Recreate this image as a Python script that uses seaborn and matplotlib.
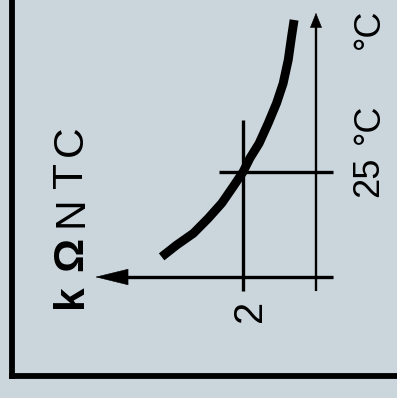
#!/usr/bin/env python3
"""NTC thermistor sketch: resistance vs temperature, drawn rotated."""
import matplotlib
matplotlib.use("Agg")
import matplotlib.pyplot as plt
import pandas as pd
import seaborn as sns

# curve: resistance (kOhm) against temperature (degC)
R_KOHM = [4.23, 3.82, 3.36, 2.95, 2.58, 2.27, 2.0, 1.81, 1.56, 1.31, 1.08,
          0.90, 0.76, 0.67, 0.60]
T_DEGC = [4.8, 7.6, 10.4, 14.0, 17.6, 21.5, 25.0, 28.3, 31.8, 36.6, 41.4,
          46.1, 51.7, 57.2, 61.2]

R_MARK = 2.0      # kOhm reference point
T_MARK = 25.0     # degC reference point
R_AXIS = (-0.47, 6.05)    # resistance axis, arrow at the far end
T_AXIS = (-3.33, 62.9)    # temperature axis, arrow at the far end
R_LABEL = "2"
T_LABEL = "25"
UNIT_T = "°C"
AXIS_TEXT = ["k", "Ω", "N", "T", "C"]

BG = "#cbd6dc"
W, H = 397, 398


def arrow_head(ax, start, tip, length, width):
    ax.annotate("", xy=tip, xytext=start,
                arrowprops=dict(arrowstyle=f"-|>,head_length={length},head_width={width}",
                                mutation_scale=1, lw=0.4, color="black",
                                shrinkA=0, shrinkB=0))


def main() -> None:
    sns.set_style("ticks", {"axes.facecolor": BG, "figure.facecolor": BG})
    plt.rcParams["font.family"] = ["Liberation Sans", "DejaVu Sans"]

    fig = plt.figure(figsize=(W / 100, H / 100), dpi=100)
    # frame: left and bottom spines are the black border
    ax = fig.add_axes([12 / W, 22 / H, 1 - 12 / W, 1 - 22 / H])
    ax.set_xlim(8.33, -2.22)     # resistance grows to the left
    ax.set_ylim(-23.57, 65.95)   # temperature grows upwards
    sns.despine(ax=ax, top=True, right=True)
    for side in ("left", "bottom"):
        ax.spines[side].set_linewidth(4.2)
        ax.spines[side].set_color("black")
        ax.spines[side].set_capstyle("projecting")
    ax.set_xticks([])
    ax.set_yticks([])

    df = pd.DataFrame({"R": R_KOHM, "T": T_DEGC})
    sns.lineplot(data=df, x="R", y="T", sort=False, color="black", lw=6.4,
                 solid_capstyle="butt", ax=ax)

    # axis lines with arrow heads
    ax.plot([R_AXIS[0], R_AXIS[1] - 0.3], [0, 0], color="black", lw=2.4,
            solid_capstyle="butt")
    arrow_head(ax, (R_AXIS[0], 0), (R_AXIS[1], 0), 22.8, 5.6)
    ax.plot([0, 0], [T_AXIS[0], T_AXIS[1] - 2], color="black", lw=1.7,
            solid_capstyle="butt")
    arrow_head(ax, (0, T_AXIS[0]), (0, T_AXIS[1]), 10, 4.0)

    # reference cross at 2 kOhm / 25 degC
    ax.plot([R_MARK, R_MARK], [T_AXIS[0], 37.4], color="black", lw=2.4,
            solid_capstyle="butt")
    ax.plot([2.66, R_AXIS[0]], [T_MARK, T_MARK], color="black", lw=2.4,
            solid_capstyle="butt")

    def label(txt, x, y, size, weight="normal"):
        fig.text(x / W, 1 - y / H, txt, rotation=90, ha="left", va="center",
                 fontsize=size, fontweight=weight, color="black")

    # "kΩ NTC" axis name
    label(AXIS_TEXT[0], 51, 296, 30.6, "bold")
    label(AXIS_TEXT[1], 51, 253.5, 30.6, "bold")
    label(AXIS_TEXT[2], 51, 211.5, 30.6)
    label(AXIS_TEXT[3], 51, 175.5, 30.6)
    label(AXIS_TEXT[4], 51, 141, 30.6)

    label(R_LABEL, 231, 311, 28.6)
    label(T_LABEL, 351.5, 176.5, 26)
    label(UNIT_T, 351.5, 123.5, 26)
    label(UNIT_T, 351.5, 29, 26)

    fig.savefig("out.png", dpi=100, facecolor=BG)
    plt.close(fig)


if __name__ == "__main__":
    main()
